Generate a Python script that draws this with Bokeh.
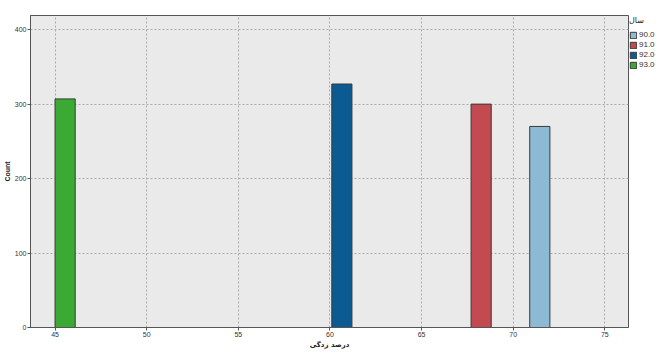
from bokeh.plotting import figure
from bokeh.models import Legend, LegendItem, Range1d, FixedTicker
from bokeh.embed import file_html
from bokeh.resources import INLINE

# Data
years = ["90.0", "91.0", "92.0", "93.0"]
bin_left = [70.9, 67.7, 60.1, 45.0]
bin_right = [72.0, 68.8, 61.2, 46.1]
counts = [270, 300, 327, 307]
colors = ["#8CB9D3", "#C24A50", "#0B5A92", "#3BAA34"]
x_ticks = [45, 50, 55, 60, 65, 70, 75]
y_ticks = [0, 100, 200, 300, 400]

p = figure(frame_width=598, frame_height=312, output_backend="svg",
           toolbar_location=None,
           x_range=Range1d(43.66, 76.29), y_range=Range1d(0, 419))
p.min_border_top = 15
p.min_border_left = 0
p.min_border_right = 0
p.min_border_bottom = 0
p.background_fill_color = "#EAEAEA"
p.border_fill_color = "white"
p.outline_line_color = "#555555"
p.outline_line_width = 1

items = []
for i in range(len(years)):
    r = p.quad(left=[bin_left[i]], right=[bin_right[i]], bottom=[0], top=[counts[i]],
               fill_color=colors[i], line_color="#3a3a3a", line_width=1)
    items.append(LegendItem(label=years[i], renderers=[r]))

p.xaxis.ticker = FixedTicker(ticks=x_ticks)
p.yaxis.ticker = FixedTicker(ticks=y_ticks)
for ax in (p.xaxis, p.yaxis):
    ax.major_label_text_font_size = "7px"
    ax.major_label_text_font = "Liberation Sans"
    ax.major_label_text_color = "#333333"
    ax.axis_label_text_font_size = "7px"
    ax.axis_label_text_font_style = "bold"
    ax.axis_label_text_color = "#222222"
    ax.axis_line_color = "#555555"
    ax.major_tick_line_color = "#555555"
    ax.major_tick_out = 3
    ax.major_tick_in = 0
    ax.minor_tick_line_color = None
    ax.major_label_standoff = 1
    ax.axis_label_standoff = 1
p.xaxis.axis_label = "درصد زدگی"
p.xaxis.axis_label_text_font = "DejaVu Sans"
p.yaxis.axis_label = "Count"
p.yaxis.axis_label_text_font = "Liberation Sans"

p.grid.grid_line_color = "#AAAAAA"
p.grid.grid_line_dash = "2 2"
p.grid.grid_line_width = 1

legend = Legend(items=items, title="سال", location="top_left")
legend.title_text_font = "DejaVu Sans"
legend.title_text_font_size = "8px"
legend.title_text_font_style = "normal"
legend.title_text_color = "#222222"
legend.label_text_font_size = "8px"
legend.label_text_font = "Liberation Sans"
legend.label_text_color = "#333333"
legend.glyph_width = 8
legend.glyph_height = 8
legend.label_height = 8
legend.spacing = 1
legend.padding = 1
legend.margin = 1
legend.label_standoff = 2
legend.border_line_color = None
legend.background_fill_alpha = 0
p.add_layout(legend, "right")

open("out.html", "w").write(file_html(p, INLINE))
